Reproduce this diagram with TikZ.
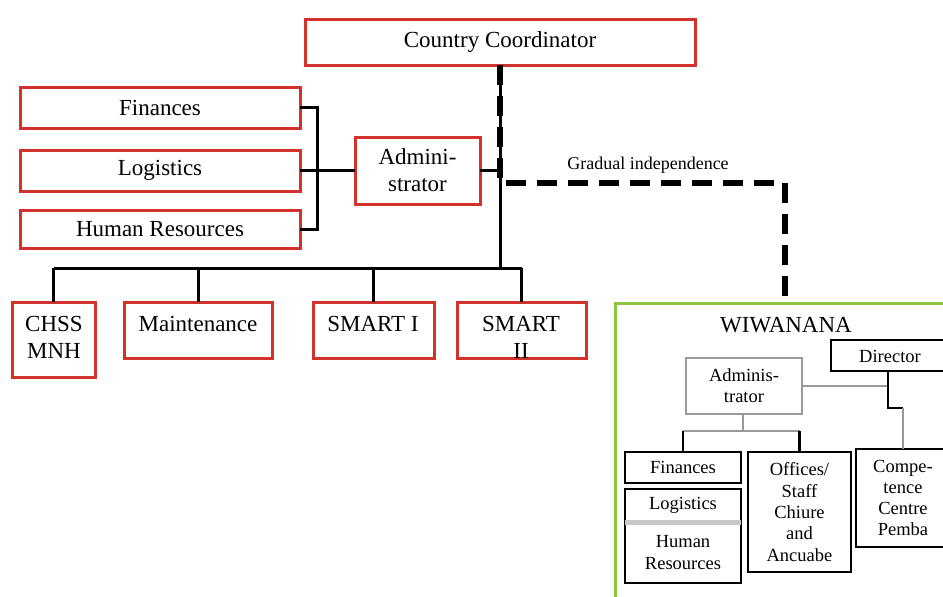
\documentclass[tikz,border=0pt]{standalone}
\usepackage{fontspec}
\setmainfont{Liberation Serif}
\definecolor{boxred}{HTML}{D3312C}
\definecolor{wgreen}{HTML}{8DC73F}
\definecolor{lgray}{gray}{0.6}
\tikzset{
  bigtext/.style={font=\fontsize{23}{27}\selectfont, align=center, inner sep=0pt},
  smalltext/.style={font=\fontsize{18.5}{21.3}\selectfont, align=center, inner sep=0pt},
  redbox/.style={draw=boxred, line width=3pt, inner sep=0pt, outer sep=0pt, anchor=north west, bigtext},
  blackbox/.style={draw=black, line width=2pt, inner sep=0pt, outer sep=0pt, anchor=north west, smalltext},
  graybox/.style={draw=lgray, line width=1.5pt, inner sep=0pt, outer sep=0pt, anchor=north west, smalltext},
  greenbox/.style={draw=wgreen, line width=3pt, inner sep=0pt, outer sep=0pt, anchor=north west},
  conn/.style={draw=black, line width=3pt},
  thinconn/.style={draw=black, line width=2.2pt},
  grayconn/.style={draw=lgray, line width=1.5pt},
  dashline/.style={draw=black, line width=6pt, dash pattern=on 20pt off 11pt}
}
\begin{document}
\begin{tikzpicture}[x=1pt, y=-1pt]
\fill[white] (0,0) rectangle (943,597);
\clip (0,0) rectangle (943,597);

% top part
\node[redbox, minimum width=390pt, minimum height=46pt] (cc) at (305,19) {Country Coordinator};
\node[redbox, minimum width=280pt, minimum height=41pt] (fin) at (20,87) {Finances};
\node[redbox, minimum width=280pt, minimum height=41pt] (log) at (20,150) {Logistics};
\node[redbox, minimum width=280pt, minimum height=38pt] (hr) at (20,210) {Human Resources};
\node[redbox, minimum width=125pt, minimum height=67pt] (adm) at (355,137) {Admini-\\strator};

% bottom row boxes
\node[redbox, minimum width=83pt, minimum height=75pt] (chss) at (12,302) {};
\node[redbox, minimum width=148pt, minimum height=56pt] (mnt) at (124,302) {};
\node[redbox, minimum width=121pt, minimum height=56pt] (sm1) at (313,302) {};
\node[redbox, minimum width=129pt, minimum height=56pt] (sm2) at (457,302) {};
\node[bigtext] (chssT) at (54,337) {CHSS\\MNH};
\node[bigtext] (mntT) at (198,324) {Maintenance};
\node[bigtext] (sm1T) at (373,324) {SMART I};
\node[bigtext] (sm2T) at (521,337) {SMART\\II};

% connectors top
\draw[conn] (fin.east) -- ++(17,0) |- (hr.east);
\draw[conn] (log.east) -- (log.east -| adm.west);
\draw[conn] (adm.east) -- (adm.east -| cc.south);
\coordinate (bus) at (0,268);
\draw[conn] (cc.south) -- (cc.south |- bus);
\draw[conn] (bus -| chss.north) -- (bus -| sm2.north);
\draw[conn] (bus -| chss.north) -- (chss.north);
\draw[conn] (bus -| mnt.north) -- (mnt.north);
\draw[conn] (bus -| sm1.north) -- (sm1.north);
\draw[conn] (bus -| sm2.north) -- (sm2.north);

% Wiwanana
\node[greenbox, minimum width=345pt, minimum height=320pt] (wiw) at (615,303) {};
\coordinate (gi) at (785,183);
\draw[dashline] (cc.south) |- (gi) -- (gi |- wiw.north);
\node[font=\fontsize{18}{21}\selectfont, inner sep=0pt] (gitext) at (648,165) {Gradual independence};

\node[bigtext] (wiwT) at (786,325) {WIWANANA};
\node[blackbox, minimum width=119pt, minimum height=31pt] (dir) at (831,340) {};
\node[smalltext] (dirT) at (890,356) {Director};
\node[graybox, minimum width=116pt, minimum height=56pt] (adm2) at (686,358) {Adminis-\\trator};
\node[blackbox, minimum width=116pt, minimum height=31pt] (fin2) at (625,452) {Finances};
\node[blackbox, minimum width=116pt, minimum height=61pt] (hr2) at (625,522) {Human\\Resources};
\node[blackbox, minimum width=116pt, minimum height=33pt] (log2) at (625,489) {Logistics};
\draw[draw=black!22, line width=5pt] (log2.south west) -- (log2.south east);
\node[blackbox, minimum width=103pt, minimum height=120pt] (off) at (748,452) {Offices/\\Staff\\Chiure\\and\\Ancuabe};
\node[blackbox, minimum width=94pt, minimum height=98pt] (cmp) at (856,449) {};
\node[smalltext] (cmpT) at (903,498) {Compe-\\tence\\Centre\\Pemba};

% Wiwanana connectors
\coordinate (wj) at (743,431);
\draw[grayconn] (adm2.south -| wj) -- (wj);
\draw[grayconn] (wj -| fin2.north) -- (wj -| off.north);
\draw[thinconn] (wj -| fin2.north) -- (fin2.north);
\draw[thinconn] (wj -| off.north) -- (off.north);
\coordinate (dj) at (888,408);
\draw[grayconn] (adm2.east) -- (adm2.east -| dj);
\draw[thinconn] (dir.south -| dj) -- (dj) -- (dj -| cmp.north);
\draw[grayconn] (dj -| cmp.north) -- (cmp.north);
\end{tikzpicture}
\end{document}
